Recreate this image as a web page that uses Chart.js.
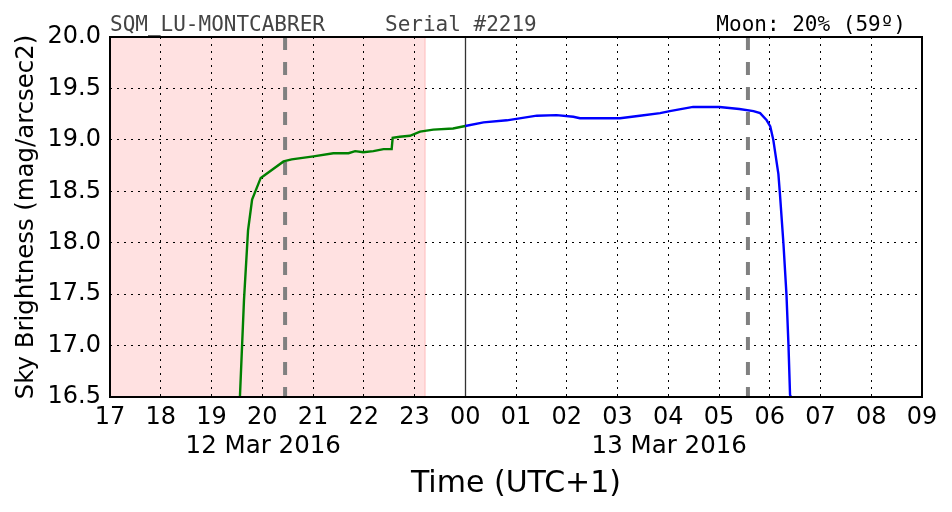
<!DOCTYPE html>
<html>
<head>
<meta charset="utf-8">
<script src="https://cdn.jsdelivr.net/npm/chart.js@4/dist/chart.umd.min.js"></script>
<style>
  html, body { margin: 0; padding: 0; background: #fff; }
  #wrap { width: 952px; height: 512px; }
</style>
</head>
<body>
<div id="wrap"><canvas id="sqm"></canvas></div>
<script>
// hours counted from 12 Mar 00:00 (24 = midnight of 13 Mar)
const duskHours = [19.56, 19.64, 19.72, 19.80, 19.97, 20.42, 20.58, 21.01, 21.40, 21.70, 21.83, 21.99, 22.19, 22.39, 22.55, 22.57, 22.71, 22.91, 23.11, 23.37, 23.76, 24.0];
const duskMag   = [16.5, 17.44, 18.12, 18.42, 18.63, 18.79, 18.81, 18.84, 18.87, 18.87, 18.89, 18.88, 18.89, 18.91, 18.91, 19.02, 19.03, 19.04, 19.08, 19.10, 19.11, 19.135];
const nightHours = [24.0, 24.36, 24.82, 25.41, 25.80, 26.13, 26.26, 27.05, 27.44, 27.84, 28.03, 28.49, 29.01, 29.40, 29.68, 29.81, 29.94, 30.01, 30.07, 30.17, 30.20, 30.27, 30.33, 30.37, 30.40, 30.42];
const nightMag   = [19.135, 19.17, 19.19, 19.235, 19.24, 19.225, 19.21, 19.21, 19.235, 19.26, 19.28, 19.32, 19.32, 19.30, 19.28, 19.26, 19.19, 19.13, 19.0, 18.67, 18.48, 17.99, 17.49, 16.99, 16.52, 16.5];

const twilightBand = [17, 23.21];      // sun above horizon shading
const moonMarks = [20.45, 29.57];      // grey dashed lines
const midnight = 24;

const xMin = 17, xMax = 33;
const yMin = 16.5, yMax = 20.0;

const dayLabels = [
  { text: '12 Mar 2016', at: 20.0 },
  { text: '13 Mar 2016', at: 28.0 }
];
const stationName = 'SQM_LU-MONTCABRER';
const serialText = 'Serial #2219';
const moonText = 'Moon: 20% (59º)';

const toPts = (xs, ys) => xs.map((x, i) => ({ x: x, y: ys[i] }));

// Extras: band, vertical lines, frame, labels
const decor = {
  id: 'decor',
  beforeDraw(chart) {
    const { ctx, chartArea: a, scales: { x } } = chart;
    ctx.save();
    ctx.fillStyle = '#fff';
    ctx.fillRect(0, 0, chart.width, chart.height);
    const x0 = x.getPixelForValue(twilightBand[0]);
    const x1 = x.getPixelForValue(twilightBand[1]);
    ctx.fillStyle = '#ffe1e1';
    ctx.fillRect(x0, a.top, x1 - x0, a.bottom - a.top);
    ctx.fillStyle = '#ffcccc';
    ctx.fillRect(x1 - 1, a.top, 1.5, a.bottom - a.top);
    ctx.restore();
  },
  beforeDatasetsDraw(chart) {
    const { ctx, chartArea: a, scales: { x } } = chart;
    ctx.save();
    // midnight line
    const xm = Math.round(x.getPixelForValue(midnight)) + 0.5;
    ctx.strokeStyle = '#333';
    ctx.lineWidth = 1.3;
    ctx.beginPath();
    ctx.moveTo(xm, a.top);
    ctx.lineTo(xm, a.bottom);
    ctx.stroke();
    // moon lines
    ctx.strokeStyle = '#808080';
    ctx.lineWidth = 4;
    ctx.setLineDash([13, 12]);
    moonMarks.forEach(h => {
      const px = x.getPixelForValue(h);
      ctx.beginPath();
      ctx.moveTo(px, a.top);
      ctx.lineTo(px, a.bottom);
      ctx.stroke();
    });
    ctx.restore();
  },
  afterDraw(chart) {
    const { ctx, chartArea: a, scales: { x } } = chart;
    ctx.save();
    // frame
    ctx.strokeStyle = '#000';
    ctx.lineWidth = 2;
    ctx.strokeRect(a.left, a.top, a.right - a.left, a.bottom - a.top);

    // header texts
    ctx.font = '21px "DejaVu Sans Mono"';
    ctx.textBaseline = 'alphabetic';
    ctx.fillStyle = '#444';
    ctx.textAlign = 'left';
    ctx.fillText(stationName, a.left, 31);
    ctx.fillText(serialText, 385, 31);
    ctx.fillStyle = '#000';
    ctx.textAlign = 'right';
    ctx.fillText(moonText, 906, 31);

    // dates under hour ticks
    ctx.font = '24.5px "DejaVu Sans"';
    ctx.textAlign = 'center';
    dayLabels.forEach(d => {
      ctx.fillText(d.text, x.getPixelForValue(d.at) + 1, 453);
    });

    // axis titles
    ctx.font = '30px "DejaVu Sans"';
    ctx.fillText('Time (UTC+1)', (a.left + a.right) / 2, 492);

    ctx.font = '24.4px "DejaVu Sans"';
    ctx.translate(33, (a.top + a.bottom) / 2);
    ctx.rotate(-Math.PI / 2);
    ctx.fillText('Sky Brightness (mag/arcsec2)', 0, 0);
    ctx.restore();
  }
};

new Chart(document.getElementById('sqm'), {
  type: 'line',
  data: {
    datasets: [{
      data: toPts(duskHours, duskMag),
      borderColor: '#008000',
      borderWidth: 2.4,
      pointRadius: 0,
      tension: 0
    }, {
      data: toPts(nightHours, nightMag),
      borderColor: '#0000ff',
      borderWidth: 2.4,
      pointRadius: 0,
      tension: 0
    }]
  },
  options: {
    responsive: true,
    maintainAspectRatio: false,
    animation: false,
    events: [],
    layout: { padding: { top: 37, right: 30, left: 0, bottom: 0 } },
    plugins: { legend: { display: false }, tooltip: { enabled: false } },
    scales: {
      x: {
        type: 'linear',
        min: xMin,
        max: xMax,
        afterFit: s => { s.height = 115; },
        border: { display: false, dash: [2, 5] },
        grid: { color: '#000', lineWidth: 1, drawTicks: false },
        ticks: {
          stepSize: 1,
          padding: 6,
          color: '#000',
          maxRotation: 0,
          font: { family: 'DejaVu Sans', size: 24 },
          callback: v => String(v % 24).padStart(2, '0')
        }
      },
      y: {
        min: yMin,
        max: yMax,
        afterFit: s => { s.width = 110; },
        border: { display: false, dash: [2, 5] },
        grid: { color: '#000', lineWidth: 1, drawTicks: false },
        ticks: {
          stepSize: 0.5,
          padding: 9,
          color: '#000',
          font: { family: 'DejaVu Sans', size: 24 },
          callback: v => v.toFixed(1)
        }
      }
    }
  },
  plugins: [decor]
});
</script>
</body>
</html>
